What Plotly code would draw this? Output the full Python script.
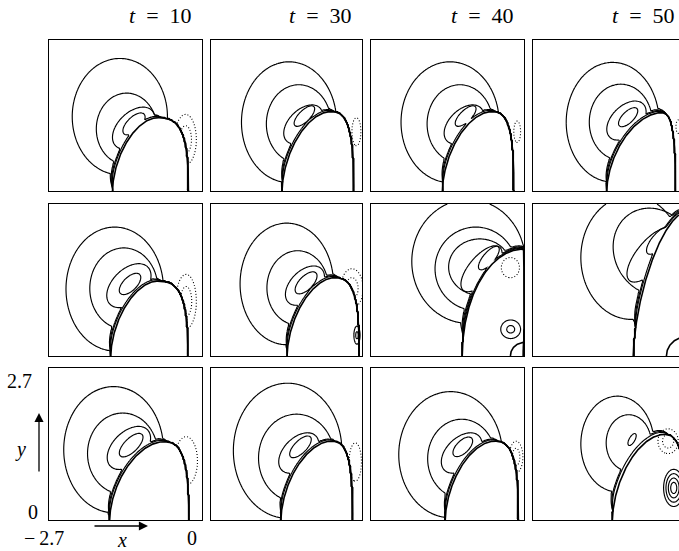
import numpy as np
import plotly.graph_objects as go

FIG_W, FIG_H = 679, 551
col_px = [(49, 202), (211, 362), (371, 524), (533, 685)]
row_px = [(40, 191), (204, 356), (368, 520)]
time_labels = ["10", "30", "40", "50"]

# ---- panel data (row-major: r1c1..r1c4, r2c1..r2c4, r3c1..r3c4) ----
# body outline: left foot, peak x, right foot, height, flank exponents
body_xl = [-1.58, -1.43, -1.44, -1.39, -1.61, -1.34, -1.09, -0.92, -1.63, -1.45, -1.39, -1.29]
body_xp = [-0.80, -0.58, -0.59, -0.44, -0.80, -0.51, -0.01, -0.01, -0.70, -0.57, -0.54, -0.39]
body_xr = [-0.24, -0.15, -0.18, -0.17, -0.25, -0.05, 0.00, 0.00, -0.235, -0.17, -0.10, 0.00]
body_h = [1.31, 1.42, 1.42, 1.40, 1.33, 1.39, 1.90, 2.55, 1.39, 1.40, 1.40, 1.52]
body_pl = [1.75, 1.75, 1.75, 1.75, 1.75, 1.75, 2.0, 1.6, 1.75, 1.75, 1.75, 1.75]
body_pr = [3.0] * 12
cap_r = [0, 0, 0, 0, 0, 0, 0.24, 0.33, 0, 0, 0, 0]
wall_ylo = [0.45, 0.55, 0.55, 0.50, 0.45, 0.50, 0.75, 0.90, 0.45, 0.50, 0.50, 0.55]

# vorticity contour levels (outer -> inner): (cx, cy, semi_a, semi_b, tilt_deg)
contour1 = [(-1.45, 1.33, 0.84, 1.04, 0), (-1.305, 1.23, 0.85, 1.08, 0), (-1.305, 1.23, 0.865, 1.08, 0),
            (-1.285, 1.23, 0.825, 1.07, 0), (-1.54, 1.19, 0.86, 1.10, 0), (-1.345, 1.28, 0.835, 1.08, 0),
            (-0.98, 1.68, 1.00, 1.10, 0), (-0.95, 1.75, 0.90, 1.10, 0), (-1.56, 1.25, 0.88, 1.12, 0),
            (-1.33, 1.23, 0.97, 1.20, 0), (-1.295, 1.16, 0.915, 1.12, 0), (-1.20, 1.35, 0.65, 0.85, 0)]
contour2 = [(-1.33, 1.11, 0.535, 0.64, 0), (-1.13, 1.20, 0.58, 0.70, 0), (-1.13, 1.20, 0.58, 0.70, 0),
            (-1.14, 1.23, 0.56, 0.68, 0), (-1.38, 1.20, 0.60, 0.72, 0), (-1.15, 1.21, 0.55, 0.66, 0),
            (-0.85, 1.55, 0.72, 0.74, 0), (-0.55, 1.85, 0.70, 0.80, 30), (-1.40, 1.18, 0.62, 0.72, 0),
            (-1.17, 1.10, 0.68, 0.78, 0), (-1.10, 1.09, 0.60, 0.70, 0), (-1.00, 1.37, 0.40, 0.50, 0)]
contour3 = [(-1.205, 1.125, 0.45, 0.28, 45), (-1.05, 1.19, 0.42, 0.26, 45), (-1.06, 1.19, 0.42, 0.26, 45),
            (-1.04, 1.26, 0.42, 0.26, 45), (-1.29, 1.25, 0.47, 0.29, 45), (-1.02, 1.25, 0.42, 0.26, 45),
            (-0.78, 1.58, 0.55, 0.50, 0), (-0.60, 1.80, 0.60, 0.25, 50), (-1.29, 1.28, 0.46, 0.285, 45),
            (-1.13, 1.19, 0.43, 0.27, 45), (-1.10, 1.19, 0.43, 0.27, 45), (-0.94, 1.43, 0.12, 0.05, 60)]
contour4 = [(-1.20, 1.20, 0.25, 0.12, 45), (-1.03, 1.34, 0.24, 0.10, 45), (-1.03, 1.34, 0.24, 0.10, 45),
            (-1.01, 1.32, 0.22, 0.10, 45), (-1.27, 1.28, 0.24, 0.12, 45), (-1.00, 1.30, 0.25, 0.12, 45),
            (-0.75, 1.55, 0.50, 0.22, 50), (-0.47, 2.05, 0.30, 0.12, 50), (-1.25, 1.33, 0.27, 0.12, 45),
            (-1.10, 1.30, 0.25, 0.11, 45), (-1.08, 1.30, 0.22, 0.11, 45), None]
contour5 = [None, None, None, None, None, None, (-0.62, 1.74, 0.26, 0.10, 50), None, None, None, None, None]
wall_offsets = [0.085, 0.064, 0.046, 0.030, 0.017]

# negative (dotted) regions: (cx, cy, semi_a, semi_b, n_loops)
dotted = [(-0.29, 0.92, 0.19, 0.45, 2), (-0.10, 1.06, 0.08, 0.25, 1), (-0.12, 1.06, 0.06, 0.19, 1),
          (-0.12, 1.15, 0.04, 0.12, 1), (-0.28, 0.97, 0.18, 0.48, 2), (-0.18, 1.20, 0.20, 0.35, 2),
          (-0.24, 1.57, 0.16, 0.18, 1), None, (-0.28, 1.05, 0.20, 0.43, 1),
          (-0.12, 1.03, 0.11, 0.34, 1), (-0.14, 1.12, 0.12, 0.28, 2), (-0.30, 1.40, 0.18, 0.22, 2)]
dotted_masked = [1, 1, 1, 1, 1, 1, 0, 0, 1, 1, 1, 0]
# extra small positive loops: (cx, cy, semi_a, semi_b, n_loops)
extra_loops = [None, None, None, None, None, (-0.09, 0.37, 0.055, 0.16, 2), (-0.235, 0.475, 0.175, 0.165, 2),
               None, None, None, None, (-0.20, 0.57, 0.18, 0.33, 4)]

SERIF = "Liberation Serif, Times New Roman, serif"
gx = np.linspace(-2.7, 0.0, 136)
gy = np.linspace(0.0, 2.7, 136)
GX, GY = np.meshgrid(gx, gy)


def body_curve(xl, xp, xr, h, pl, pr, n=300):
    th = np.linspace(0, np.pi / 2, n)
    xL = xp - (xp - xl) * np.cos(th) ** (2 / pl)
    yL = h * np.sin(th) ** (2 / pl)
    th2 = th[::-1]
    xR = xp + (xr - xp) * np.cos(th2) ** (2 / pr)
    yR = h * np.sin(th2) ** (2 / pr)
    return np.concatenate([xL, xR[1:]]), np.concatenate([yL, yR[1:]])


def ell_q(X, Y, e):
    cx, cy, a, b, tilt = e
    t = np.radians(tilt)
    dx, dy = X - cx, Y - cy
    u = dx * np.cos(t) + dy * np.sin(t)
    v = -dx * np.sin(t) + dy * np.cos(t)
    return np.sqrt((u / a) ** 2 + (v / b) ** 2)


fig = go.Figure()
layout_axes = {}
for i in range(12):
    r, c = divmod(i, 4)
    sid = "" if i == 0 else str(i + 1)
    xa, ya = "x" + sid, "y" + sid
    x0, x1 = col_px[c]
    y0, y1 = row_px[r]
    xrange_ = [-2.7, 0.0]
    if x1 > FIG_W:
        xrange_ = [-2.7, -2.7 + 2.7 * (FIG_W - x0) / (x1 - x0)]
        x1 = FIG_W
    common = dict(showgrid=False, zeroline=False, showticklabels=False, ticks="",
                  showline=True, linecolor="black", linewidth=1.1, fixedrange=True)
    layout_axes["xaxis" + sid] = dict(domain=[x0 / FIG_W, x1 / FIG_W], range=xrange_, anchor=ya,
                                      mirror=True, **common)
    layout_axes["yaxis" + sid] = dict(domain=[1 - y1 / FIG_H, 1 - y0 / FIG_H], range=[0, 2.7], anchor=xa,
                                      mirror=(c < 3), **common)

    bx, by = body_curve(body_xl[i], body_xp[i], body_xr[i], body_h[i], body_pl[i], body_pr[i])
    ybody = np.interp(GX, bx, by, left=-1.0, right=-1.0)
    inside = GY < ybody
    P0 = GX.ravel().astype(np.float32)[:, None]
    P1 = GY.ravel().astype(np.float32)[:, None]
    D2 = (P0 - bx[None, :].astype(np.float32)) ** 2 + (P1 - by[None, :].astype(np.float32)) ** 2
    idx = np.argmin(D2, axis=1)
    dist = np.sqrt(D2[np.arange(D2.shape[0]), idx]).reshape(GX.shape)
    xs = bx[idx].reshape(GX.shape)
    ys = by[idx].reshape(GX.shape)
    # wall layer along the left flank, fading toward the foot and past the crest
    pen = (np.maximum(0, xs - (body_xp[i] - 0.12)) / 0.22) ** 2 + (np.maximum(0, wall_ylo[i] - ys) / 0.4) ** 2

    levels = [lv[i] for lv in (contour1, contour2, contour3, contour4, contour5) if lv[i] is not None]
    for k, e in enumerate(levels):
        q = ell_q(GX, GY, e)
        w = dist / wall_offsets[k] + pen
        z = np.minimum(q, w)
        z[inside] = -dist[inside] / wall_offsets[k]
        fig.add_trace(go.Contour(x=gx, y=gy, z=z.astype(np.float32), autocontour=False,
                                 contours=dict(start=1, end=1, size=1, coloring="none"),
                                 line=dict(color="black", width=1.15), showscale=False,
                                 hoverinfo="skip", xaxis=xa, yaxis=ya))

    if dotted[i] is not None:
        cx, cy, a, b, n = dotted[i]
        lx = np.linspace(cx - 1.5 * a, cx + 1.5 * a, 70)
        ly = np.linspace(cy - 1.5 * b, cy + 1.5 * b, 70)
        LX, LY = np.meshgrid(lx, ly)
        q = ell_q(LX, LY, (cx, cy, a, b, 0))
        if dotted_masked[i]:
            yb = np.interp(LX, bx, by, left=-1.0, right=-1.0)
            q[LY < yb] = 5.0
        st = 0.55 if n == 2 else 1.0
        fig.add_trace(go.Contour(x=lx, y=ly, z=q.astype(np.float32), autocontour=False,
                                 contours=dict(start=st, end=1.0, size=0.45, coloring="none"),
                                 line=dict(color="black", width=1.1, dash="1px,2px"), showscale=False,
                                 hoverinfo="skip", xaxis=xa, yaxis=ya))

    if extra_loops[i] is not None:
        cx, cy, a, b, n = extra_loops[i]
        lx = np.linspace(cx - 1.5 * a, cx + 1.5 * a, 70)
        ly = np.linspace(cy - 1.5 * b, cy + 1.5 * b, 70)
        LX, LY = np.meshgrid(lx, ly)
        q = ell_q(LX, LY, (cx, cy, a, b, 0))
        st = 0.3 if n > 2 else 0.4
        fig.add_trace(go.Contour(x=lx, y=ly, z=q.astype(np.float32), autocontour=False,
                                 contours=dict(start=st, end=1.0, size=(1 - st) / (n - 1), coloring="none"),
                                 line=dict(color="black", width=1.15), showscale=False,
                                 hoverinfo="skip", xaxis=xa, yaxis=ya))

    fig.add_trace(go.Scatter(x=bx, y=by, mode="lines", line=dict(color="black", width=1.6),
                             hoverinfo="skip", xaxis=xa, yaxis=ya))
    if cap_r[i] > 0:
        th = np.linspace(0, np.pi / 2, 60)
        fig.add_trace(go.Scatter(x=-cap_r[i] * np.cos(th), y=cap_r[i] * np.sin(th), mode="lines",
                                 line=dict(color="black", width=1.6), hoverinfo="skip", xaxis=xa, yaxis=ya))

annotations = []
for c, lab in enumerate(time_labels):
    annotations.append(dict(x=(col_px[c][1] - 8) / FIG_W, y=1 - 15 / FIG_H, xref="paper", yref="paper",
                            xanchor="right", yanchor="middle", showarrow=False,
                            text="<i>t</i>\u2002=\u2002" + lab, font=dict(family=SERIF, size=22, color="black")))


def label(px, py, text, anchor="center", size=20):
    annotations.append(dict(x=px / FIG_W, y=1 - py / FIG_H, xref="paper", yref="paper",
                            xanchor=anchor, yanchor="middle", showarrow=False, text=text,
                            font=dict(family=SERIF, size=size, color="black")))


label(19, 381, "2.7")
label(33, 512, "0")
label(44, 538, "\u2212\u20092.7")
label(192, 538, "0")
label(122, 540, "<i>x</i>")
label(20, 449, "<i>y</i>")
annotations.append(dict(x=148 / FIG_W, y=1 - 526 / FIG_H, xref="paper", yref="paper", text="",
                        showarrow=True, ax=-55, ay=0, arrowhead=2, arrowsize=1.4, arrowwidth=1.3,
                        arrowcolor="black"))
annotations.append(dict(x=39 / FIG_W, y=1 - 413 / FIG_H, xref="paper", yref="paper", text="",
                        showarrow=True, ax=0, ay=60, arrowhead=2, arrowsize=1.4, arrowwidth=1.3,
                        arrowcolor="black"))

fig.update_layout(width=FIG_W, height=FIG_H, margin=dict(l=0, r=0, t=0, b=0),
                  paper_bgcolor="white", plot_bgcolor="white", showlegend=False,
                  annotations=annotations, **layout_axes)
fig.write_html("out.html", config={"displayModeBar": False, "staticPlot": True},
               post_script="document.body.style.margin='0px';")
